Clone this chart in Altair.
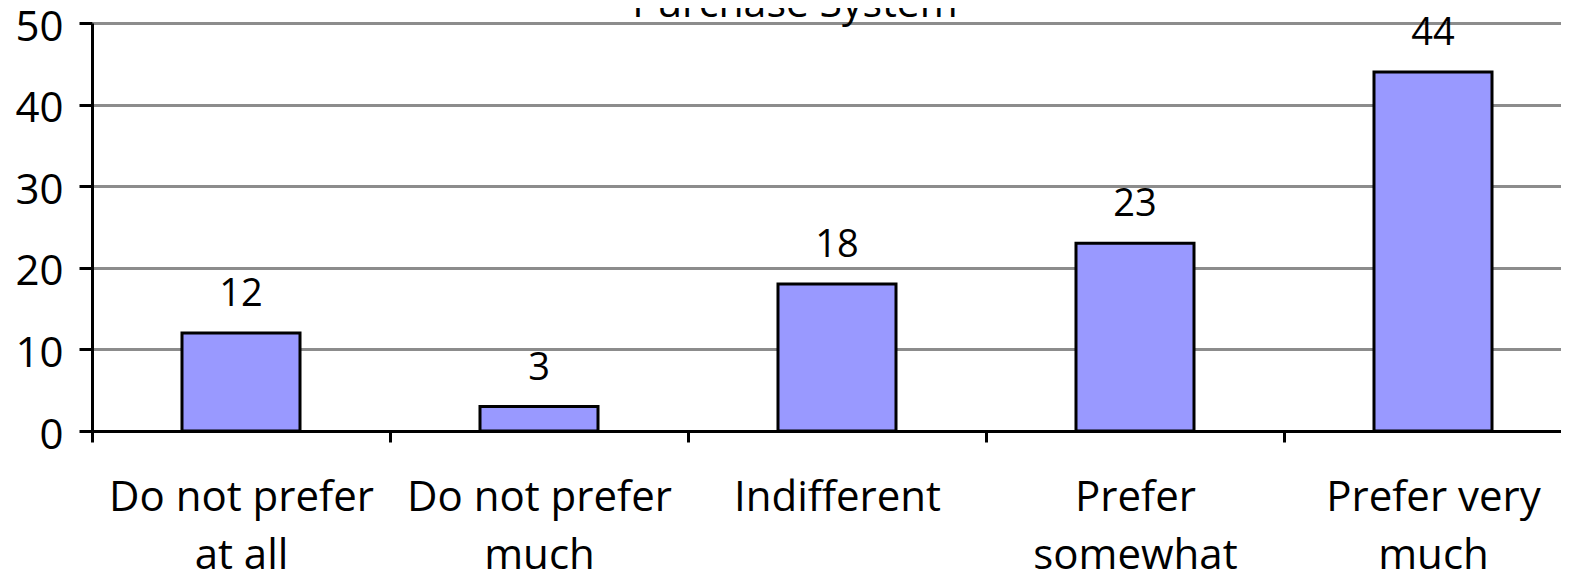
import altair as alt
import pandas as pd

categories = ["Do not prefer\nat all", "Do not prefer\nmuch", "Indifferent", "Prefer\nsomewhat", "Prefer very\nmuch"]
values = [12, 3, 18, 23, 44]
y_ticks = [0, 10, 20, 30, 40, 50]
title_text = ["Purchase System"]

df = pd.DataFrame({"category": categories, "value": values})
title_df = pd.DataFrame({"title": title_text})

FONT = "Open Sans"

x_enc = alt.X(
    "category:N",
    sort=categories,
    title=None,
    scale=alt.Scale(paddingInner=0, paddingOuter=0, range=[0, 1490]),
    axis=alt.Axis(
        labelAngle=0,
        labelExpr="split(datum.label, '\\n')",
        labelFontSize=42,
        labelFont=FONT,
        labelColor="black",
        labelLineHeight=58,
        labelPadding=35,
        labelLimit=0,
        tickBand="extent",
        tickSize=11,
        tickWidth=3,
        tickColor="black",
        domainColor="black",
        domainWidth=3,
        grid=False,
    ),
)
y_enc = alt.Y(
    "value:Q",
    title=None,
    scale=alt.Scale(domain=[0, 50], nice=False),
    axis=alt.Axis(
        values=y_ticks,
        labelFontSize=42,
        labelFont=FONT,
        labelColor="black",
        labelPadding=16,
        labelOffset=4,
        tickSize=13,
        tickWidth=3,
        tickColor="black",
        domainColor="black",
        domainWidth=3,
        grid=True,
        gridColor="#8c8c8c",
        gridWidth=3,
    ),
)

bars = alt.Chart(df).mark_bar(
    color="#9999FF", stroke="black", strokeWidth=3, width=alt.RelativeBandSize(0.396)
).encode(x=x_enc, y=y_enc)
labels = alt.Chart(df).mark_text(
    font=FONT, fontSize=38, color="black", baseline="alphabetic", dy=-27
).encode(x=alt.X("category:N", sort=categories), y="value:Q", text="value:Q")

title_mark = alt.Chart(title_df).mark_text(
    font=FONT, fontSize=41, color="black", baseline="alphabetic", align="center"
).encode(text="title:N", x=alt.value(703), y=alt.value(-6))

chart = (
    alt.layer(bars, labels, title_mark)
    .properties(
        width=1469,
        height=408,
        padding={"left": 84, "top": 15, "right": 0, "bottom": 140},
        autosize=alt.AutoSizeParams(type="none"),
    )
    .configure_view(stroke=None)
)

chart.save("out.html", embed_options={"renderer": "svg", "actions": False})
